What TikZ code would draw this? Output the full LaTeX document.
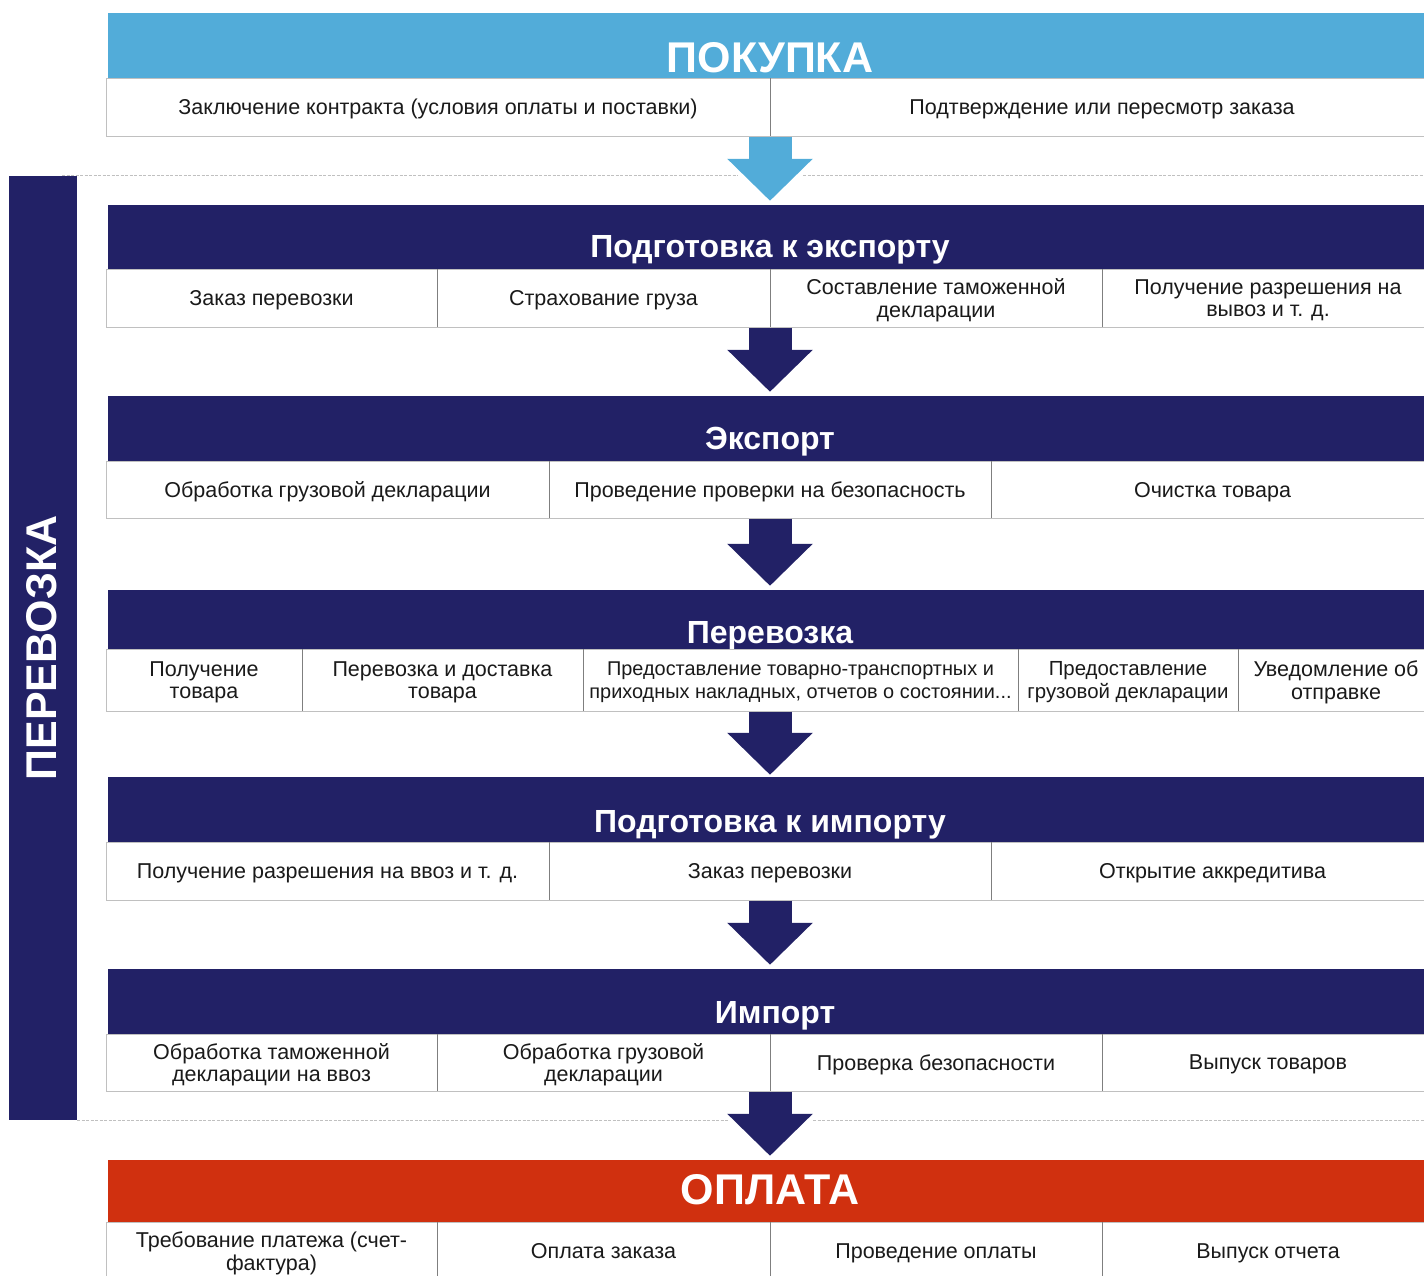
\documentclass[tikz,border=0pt]{standalone}
\usepackage{fontspec}
\setmainfont{Liberation Sans}
\usepackage{xcolor}
\usepackage{tikz}
\usetikzlibrary{arrows.meta}
\definecolor{buyblue}{HTML}{52ACD9}
\definecolor{navy}{HTML}{222166}
\definecolor{payred}{HTML}{D0300F}
\definecolor{rowgray}{HTML}{C0C0C0}
\definecolor{divgray}{HTML}{7F7F7F}
\definecolor{cellink}{HTML}{1A1A1A}
\newcommand{\cellfont}{\fontsize{21.5}{22.5}\selectfont}
\tikzset{
  hdrbox/.style={draw=none,inner sep=0pt,minimum width=1324pt},
  rowbox/.style={draw=rowgray,line width=1pt,fill=white,inner sep=0pt,minimum width=1328pt},
  cell/.style={inner sep=0pt,align=center,font=\cellfont,text=cellink,text depth=0pt},
  divline/.style={draw=divgray,line width=1pt},
  sectitle/.style={anchor=base,text=white,font=\fontsize{32}{36}\selectfont\bfseries},
  bigtitle/.style={anchor=base,text=white,font=\fontsize{43}{48}\selectfont\bfseries},
  bigarrow/.style={line width=43pt,-{Triangle[width=83pt,length=42pt]}},
  sepline/.style={draw=rowgray,line width=0.8pt,dash pattern=on 3pt off 1.5pt}
}

\begin{document}
\begin{tikzpicture}[x=1pt,y=-1pt]
  \useasboundingbox (0,0) rectangle (1424,1275);
  \clip (0,0) rectangle (1424,1275);
  % dotted borders of the transport block
  \draw[sepline] (62,175) -- (738,175);
  \draw[sepline] (803,175) -- (1424,175);
  \draw[sepline] (77,1120) -- (728,1120);
  \draw[sepline] (813,1120) -- (1424,1120);
  \node[fill=navy,inner sep=0pt,minimum width=68pt,minimum height=944pt] (side) at (43,648) {};
  \node[rotate=90,text=white,font=\fontsize{43}{46}\selectfont\bfseries] (sidet) at (42,648) {ПЕРЕВОЗКА};
  % headers
  \node[hdrbox,fill=buyblue,minimum height=65pt] (buyh) at (770,45.5) {};
  \node[bigtitle] (buyt) at (770,72) {ПОКУПКА};
  \node[hdrbox,fill=navy,minimum height=64pt] (preph) at (770,237) {};
  \node[sectitle] (prept) at (770,257) {Подготовка к экспорту};
  \node[hdrbox,fill=navy,minimum height=65pt] (exph) at (770,428.5) {};
  \node[sectitle] (expt) at (770,449) {Экспорт};
  \node[hdrbox,fill=navy,minimum height=59pt] (transh) at (770,619.5) {};
  \node[sectitle] (transt) at (770,643) {Перевозка};
  \node[hdrbox,fill=navy,minimum height=65pt] (imph) at (770,809.5) {};
  \node[sectitle] (impt) at (770,832) {Подготовка к импорту};
  \node[hdrbox,fill=navy,minimum height=65pt] (inh) at (770,1001.5) {};
  \node[sectitle] (int) at (775,1023) {Импорт};
  \node[hdrbox,fill=payred,minimum height=62pt] (payh) at (770,1191) {};
  \node[bigtitle] (payt) at (770,1204) {ОПЛАТА};
  % rows
  \node[rowbox,minimum height=58pt] (buyr) at (770,107) {};
  \node[rowbox,minimum height=58pt] (prepr) at (770,298) {};
  \node[rowbox,minimum height=57pt] (expr) at (770,489.5) {};
  \node[rowbox,minimum height=62pt] (transr) at (770,680) {};
  \node[rowbox,minimum height=58pt] (impr) at (770,871) {};
  \node[rowbox,minimum height=57pt] (inr) at (770,1062.5) {};
  \node[rowbox,minimum height=58pt] (payr) at (770,1251) {};
  % arrows between the stages
  \draw[bigarrow,draw=buyblue] (buyr.south) -- ([yshift=4pt]preph.north);
  \draw[bigarrow,draw=navy] (prepr.south) -- ([yshift=4pt]exph.north);
  \draw[bigarrow,draw=navy] (expr.south) -- ([yshift=4pt]transh.north);
  \draw[bigarrow,draw=navy] (transr.south) -- ([yshift=2pt]imph.north);
  \draw[bigarrow,draw=navy] (impr.south) -- ([yshift=4pt]inh.north);
  \draw[bigarrow,draw=navy] (inr.south) -- ([yshift=4pt]payh.north);
  % ПОКУПКА
  \node[cell,minimum width=664pt,minimum height=58pt] (buy1) at (438,107) {Заключение контракта (условия оплаты и поставки)};
  \node[cell,minimum width=664pt,minimum height=58pt] (buy2) at (1102,107) {Подтверждение или пересмотр заказа};
  \draw[divline] (buy1.north east) -- (buy1.south east);
  % Подготовка к экспорту
  \node[cell,minimum width=331pt,minimum height=58pt] (prep1) at (271.5,298) {Заказ перевозки};
  \node[cell,minimum width=333pt,minimum height=58pt] (prep2) at (603.5,298) {Страхование груза};
  \node[cell,minimum width=332pt,minimum height=58pt] (prep3) at (936,298) {Составление таможенной\\декларации};
  \node[cell,minimum width=332pt,minimum height=58pt] (prep4) at (1268,298) {Получение разрешения на\\вывоз и т. д.};
  \draw[divline] (prep1.north east) -- (prep1.south east);
  \draw[divline] (prep2.north east) -- (prep2.south east);
  \draw[divline] (prep3.north east) -- (prep3.south east);
  % Экспорт
  \node[cell,minimum width=443pt,minimum height=57pt] (exp1) at (327.5,489.5) {Обработка грузовой декларации};
  \node[cell,minimum width=442pt,minimum height=57pt] (exp2) at (770,489.5) {Проведение проверки на безопасность};
  \node[cell,minimum width=443pt,minimum height=57pt] (exp3) at (1212.5,489.5) {Очистка товара};
  \draw[divline] (exp1.north east) -- (exp1.south east);
  \draw[divline] (exp2.north east) -- (exp2.south east);
  % Перевозка
  \node[cell,minimum width=196pt,minimum height=62pt] (trans1) at (204,680) {Получение\\товара};
  \node[cell,minimum width=281pt,minimum height=62pt] (trans2) at (442.5,680) {Перевозка и доставка\\товара};
  \node[cell,minimum width=435pt,minimum height=62pt,font=\fontsize{19.9}{22.5}\selectfont] (trans3) at (800.5,680) {Предоставление товарно-транспортных и\\приходных накладных, отчетов о состоянии...};
  \node[cell,minimum width=220pt,minimum height=62pt,font=\fontsize{20.4}{22.5}\selectfont] (trans4) at (1128,680) {Предоставление\\грузовой декларации};
  \node[cell,minimum width=196pt,minimum height=62pt] (trans5) at (1336,680) {Уведомление об\\отправке};
  \draw[divline] (trans1.north east) -- (trans1.south east);
  \draw[divline] (trans2.north east) -- (trans2.south east);
  \draw[divline] (trans3.north east) -- (trans3.south east);
  \draw[divline] (trans4.north east) -- (trans4.south east);
  % Подготовка к импорту
  \node[cell,minimum width=443pt,minimum height=58pt] (imp1) at (327.5,871) {Получение разрешения на ввоз и т. д.};
  \node[cell,minimum width=442pt,minimum height=58pt] (imp2) at (770,871) {Заказ перевозки};
  \node[cell,minimum width=443pt,minimum height=58pt] (imp3) at (1212.5,871) {Открытие аккредитива};
  \draw[divline] (imp1.north east) -- (imp1.south east);
  \draw[divline] (imp2.north east) -- (imp2.south east);
  % Импорт
  \node[cell,minimum width=331pt,minimum height=57pt] (in1) at (271.5,1062.5) {Обработка таможенной\\декларации на ввоз};
  \node[cell,minimum width=333pt,minimum height=57pt] (in2) at (603.5,1062.5) {Обработка грузовой\\декларации};
  \node[cell,minimum width=332pt,minimum height=57pt] (in3) at (936,1062.5) {Проверка безопасности};
  \node[cell,minimum width=332pt,minimum height=57pt] (in4) at (1268,1062.5) {Выпуск товаров};
  \draw[divline] (in1.north east) -- (in1.south east);
  \draw[divline] (in2.north east) -- (in2.south east);
  \draw[divline] (in3.north east) -- (in3.south east);
  % ОПЛАТА
  \node[cell,minimum width=331pt,minimum height=58pt] (pay1) at (271.5,1251) {Требование платежа (счет-\\фактура)};
  \node[cell,minimum width=333pt,minimum height=58pt] (pay2) at (603.5,1251) {Оплата заказа};
  \node[cell,minimum width=332pt,minimum height=58pt] (pay3) at (936,1251) {Проведение оплаты};
  \node[cell,minimum width=332pt,minimum height=58pt] (pay4) at (1268,1251) {Выпуск отчета};
  \draw[divline] (pay1.north east) -- (pay1.south east);
  \draw[divline] (pay2.north east) -- (pay2.south east);
  \draw[divline] (pay3.north east) -- (pay3.south east);
\end{tikzpicture}
\end{document}
